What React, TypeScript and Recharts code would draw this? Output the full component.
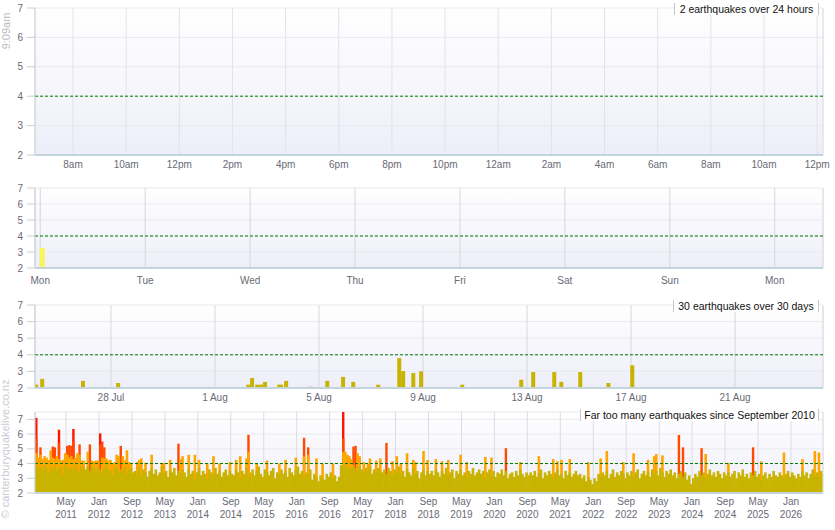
import { BarChart, Bar, XAxis, YAxis, CartesianGrid, ReferenceLine } from 'recharts'

// panel 1: last 24 hours, x = hours since midnight yesterday
const hourTicks = [8, 10, 12, 14, 16, 18, 20, 22, 24, 26, 28, 30, 32, 34, 36]
const hourLabels = ['8am', '10am', '12pm', '2pm', '4pm', '6pm', '8pm', '10pm', '12am', '2am', '4am', '6am', '8am', '10am', '12pm']
const hourDomain = [6.57, 36.22]
// both quakes of the last day were under M2, so nothing shows above the floor
const quakes24h: { h: number; mag: number }[] = []

// panel 2: last week, x = days since Monday
const dayTicks = [0, 1, 2, 3, 4, 5, 6, 7]
const dayLabels = ['Mon', 'Tue', 'Wed', 'Thu', 'Fri', 'Sat', 'Sun', 'Mon']
const dayDomain = [-0.05, 7.46]
const weekDays = [0.02]
const weekMags = [3.25]

// panel 3: last 30 days, x = days since 25 Jul
const dateTicks = [3, 7, 11, 15, 19, 23, 27]
const dateLabels = ['28 Jul', '1 Aug', '5 Aug', '9 Aug', '13 Aug', '17 Aug', '21 Aug']
const dateDomain = [0.08, 30.38]
const monthDays = [
  0.12, 0.35, 1.92, 3.27, 8.27, 8.42, 8.62, 8.77, 8.92, 9.46, 9.54, 9.73, 10.65, 11.31, 11.92,
  12.31, 13.27, 14.08, 14.23, 14.62, 14.92, 16.5, 18.77, 19.23, 20.04, 20.31, 21.04, 22.12, 23.04,
]
const monthMags = [
  2.2, 2.55, 2.43, 2.3, 2.2, 2.6, 2.2, 2.2, 2.37, 2.2, 2.2, 2.43, 2.08, 2.43, 2.67,
  2.37, 2.2, 3.8, 3.02, 2.9, 3.0, 2.2, 2.5, 2.96, 2.96, 2.37, 2.96, 2.3, 3.37,
]

// panel 4: since Sep 2010, x = months since 1 Sep 2010
const yearTicks = [8, 16, 24, 32, 40, 48, 56, 64, 72, 80, 88, 96, 104, 112, 120, 128, 136, 144, 152, 160, 168, 176, 184]
const yearLabels = [
  'May 2011', 'Jan 2012', 'Sep 2012', 'May 2013', 'Jan 2014', 'Sep 2014', 'May 2015', 'Jan 2016',
  'Sep 2016', 'May 2017', 'Jan 2018', 'Sep 2018', 'May 2019', 'Jan 2020', 'Sep 2020', 'May 2021',
  'Jan 2022', 'Sep 2022', 'May 2023', 'Jan 2024', 'Sep 2024', 'May 2025', 'Jan 2026',
]
const yearDomain = [0.47, 191.77]
const binStart = 0.75
const binStep = 0.5
// largest quake under M4 in each half-month, one row per year from September
const goldTops = [
  3.9, 3.6, 3.8, 3.5, 3.9, 3.7, 3.4, 3.8, 3.6, 3.9, 3.5, 3.7, 3.8, 3.3, 3.9, 3.6, 3.8, 3.7, 3.5, 3.9, 3.6, 3.4, 3.8, 3.7,
  3.6, 3.8, 3.5, 3.9, 3.7, 3.4, 3.8, 3.6, 3.3, 3.7, 3.9, 3.5, 3.6, 3.2, 3.7, 3.8, 3.4, 3.6, 3.5, 3.8, 3.3, 3.6, 3.7, 3.4,
  3.5, 3.3, 3.7, 3.2, 3.6, 3.4, 3.1, 3.5, 3.7, 3.3, 3.6, 3.2, 3.4, 3.8, 3.3, 3.5, 3.1, 3.6, 3.4, 3.7, 3.2, 3.5, 3.3, 3.6,
  3.4, 3.1, 3.6, 3.3, 3.5, 2.9, 3.4, 3.7, 3.2, 3.5, 3.3, 3.0, 3.6, 3.4, 3.2, 3.7, 3.3, 3.5, 3.1, 3.4, 3.6, 3.2, 3.5, 3.3,
  3.2, 3.6, 3.4, 3.0, 3.5, 3.3, 3.7, 3.1, 3.4, 3.6, 3.2, 3.5, 3.8, 3.3, 3.1, 3.6, 3.4, 3.2, 3.5, 3.7, 3.0, 3.4, 3.3, 3.6,
  3.3, 3.5, 3.1, 3.7, 3.4, 3.2, 3.6, 3.8, 3.3, 3.5, 3.0, 3.4, 3.2, 3.6, 2.9, 3.3, 3.1, 2.8, 3.2, 3.0, 2.9, 3.3, 3.1, 3.4,
  3.0, 3.2, 2.8, 3.1, 3.9, 3.8, 3.9, 3.7, 3.8, 3.6, 3.9, 3.7, 3.5, 3.8, 3.6, 3.4, 3.7, 3.5, 3.8, 3.3, 3.6, 3.4, 3.7, 3.5,
  3.4, 3.6, 3.3, 3.7, 3.5, 3.2, 3.6, 3.4, 3.8, 3.3, 3.5, 3.1, 3.6, 3.4, 3.2, 3.7, 3.3, 3.5, 3.0, 3.4, 3.6, 3.2, 3.5, 3.3,
  3.5, 3.2, 3.6, 3.4, 3.1, 3.5, 3.3, 3.7, 3.2, 3.4, 3.6, 3.0, 3.5, 3.3, 3.6, 3.2, 3.4, 3.1, 3.5, 3.3, 3.7, 3.2, 3.4, 3.6,
  3.3, 3.5, 3.0, 3.4, 3.6, 3.2, 3.5, 3.1, 3.4, 3.3, 3.6, 3.2, 3.5, 3.0, 3.3, 3.4, 3.1, 3.5, 3.2, 3.6, 3.3, 3.1, 3.4, 3.2,
  3.4, 3.2, 3.5, 3.1, 3.3, 3.6, 3.0, 3.4, 3.2, 3.5, 3.3, 3.1, 3.4, 3.6, 3.2, 3.3, 3.0, 3.5, 3.2, 3.4, 3.1, 3.3, 3.5, 3.2,
  3.3, 3.0, 3.2, 2.8, 3.1, 2.9, 2.6, 3.0, 2.8, 3.3, 3.1, 3.4, 3.2, 3.5, 3.0, 3.3, 3.6, 3.1, 3.4, 3.2, 3.5, 3.3, 3.0, 3.4,
  3.2, 3.5, 3.1, 3.4, 3.6, 3.0, 3.3, 3.5, 3.2, 3.4, 3.1, 3.6, 3.3, 3.5, 3.2, 3.7, 3.4, 3.1, 3.5, 3.3, 3.6, 3.2, 3.4, 3.0,
  3.3, 3.5, 3.1, 3.4, 2.9, 3.2, 2.6, 3.0, 3.3, 3.1, 3.5, 3.2, 3.4, 3.0, 3.3, 3.6, 3.2, 3.4, 3.1, 3.5, 3.3, 3.0, 3.4, 3.2,
  3.4, 3.1, 3.3, 3.5, 3.0, 3.4, 3.2, 3.6, 3.1, 3.3, 3.0, 3.4, 3.2, 3.5, 3.1, 3.3, 2.9, 3.2, 3.4, 3.0, 3.3, 3.1, 3.5, 3.2,
  3.1, 3.4, 3.2, 3.0, 3.3, 3.5, 3.1, 3.4, 3.2, 3.0, 3.3, 3.1, 3.5, 3.2, 3.4, 3.0, 3.3, 3.6, 3.2, 3.4, 3.1, 3.5, 3.3,
]
// quakes of M4 and over: [month, magnitude]
const bigQuakes: [number, number][] = [
  [0.7, 7.1], [0.7, 5.7], [0.7, 4.7], [1.25, 4.4], [1.9, 5.1], [1.9, 4.6], [2.4, 4.3], [2.9, 4.5], [3.3, 4.4],
  [3.6, 4.25], [4.1, 4.3], [4.35, 4.9], [4.8, 5.15], [4.8, 4.4], [5.1, 5.1], [5.3, 4.3], [5.7, 4.5], [6.05, 4.3],
  [6.3, 6.3], [6.3, 5.4], [6.7, 4.2], [7.0, 4.25], [7.5, 4.7], [7.75, 4.4], [8.0, 5.2], [8.25, 4.6], [8.5, 5.25],
  [8.7, 4.4], [9.0, 5.2], [9.2, 4.5], [9.6, 4.3], [9.9, 6.35], [9.9, 5.5], [10.3, 4.4], [10.7, 4.7], [11.15, 5.3],
  [11.15, 4.6], [11.6, 4.2], [12.1, 4.2], [12.4, 4.2], [13.0, 4.8], [13.35, 4.4], [13.7, 5.3], [14.05, 4.2],
  [14.55, 4.15], [15.05, 4.1], [15.3, 4.2], [15.75, 4.2], [16.25, 6.05], [16.25, 5.3], [16.5, 4.4], [16.75, 5.5],
  [17.1, 5.1], [17.2, 4.3], [17.45, 4.35], [17.95, 4.35], [18.2, 4.2], [18.7, 4.25], [18.9, 4.1], [19.4, 4.0],
  [19.9, 4.1], [20.25, 4.6], [20.85, 4.5], [21.35, 5.2], [21.6, 4.3], [21.95, 4.5], [22.3, 4.2], [22.7, 4.9],
  [23.2, 4.1], [23.8, 4.05], [25.0, 4.1], [25.6, 4.25], [26.2, 4.35], [27.4, 4.05], [28.9, 4.6], [31.05, 4.0],
  [31.9, 4.05], [33.0, 4.25], [35.2, 5.35], [35.7, 4.3], [36.4, 4.5], [37.6, 4.6], [39.05, 4.6], [40.3, 4.25],
  [42.45, 4.0], [43.9, 4.5], [45.4, 4.0], [47.8, 4.1], [49.0, 4.25], [50.25, 4.5], [51.95, 4.35],
  [52.45, 5.95], [52.45, 4.8], [54.35, 4.0], [56.55, 4.2], [59.95, 4.0], [61.15, 4.25], [63.85, 4.4],
  [65.8, 5.75], [65.8, 4.5], [66.75, 5.1], [66.75, 4.6], [68.7, 4.35], [70.15, 4.0], [72.8, 4.0],
  [75.0, 7.8], [75.0, 5.7], [75.0, 4.8], [75.5, 4.8], [76.2, 4.6], [76.95, 4.5], [77.4, 4.3], [77.9, 5.15],
  [78.4, 5.2], [78.9, 4.7], [79.35, 4.5], [80.3, 4.1], [81.05, 4.0], [81.8, 4.35], [83.0, 4.2], [84.25, 4.35],
  [85.95, 5.4], [87.15, 4.15], [88.1, 4.5], [89.1, 4.0], [90.55, 4.7], [92.25, 4.25], [92.95, 4.1], [94.65, 4.85],
  [95.65, 4.25], [97.8, 4.3], [99.3, 4.15], [100.5, 4.25], [103.9, 4.6], [105.1, 4.1], [109.95, 4.45], [111.4, 4.4],
  [114.8, 5.04], [118.2, 4.1], [122.6, 4.5], [126.0, 4.3], [127.2, 4.15], [128.4, 4.25], [130.35, 4.3], [134.5, 4.1],
  [137.9, 4.35], [139.35, 4.85], [143.25, 4.1], [145.65, 4.7], [149.3, 4.25], [150.5, 4.5], [151.0, 4.65],
  [152.7, 4.55], [156.8, 5.94], [157.8, 5.1], [162.15, 5.04], [163.35, 4.65], [168.7, 4.05], [174.55, 5.1],
  [176.5, 4.15], [182.05, 4.75], [186.7, 4.3], [189.6, 4.85], [190.55, 4.75],
]

const FONT = '"Liberation Sans", Arial, sans-serif'
const tickStyle = { fill: '#6a6a76', fontSize: 10, fontFamily: FONT }
const axisGrey = '#c6d2d4'

const weekData = weekDays.map((d, i) => ({ d, mag: weekMags[i] }))
const monthData = monthDays.map((d, i) => ({ d, mag: monthMags[i] }))

type Bin = { m: number; gold: number; orange: number | null; ored: number | null; red: number | null }
const allData: Bin[] = goldTops.map((g, i) => ({ m: binStart + i * binStep, gold: g, orange: null, ored: null, red: null }))
for (const [m, mag] of bigQuakes) {
  const i = Math.min(allData.length - 1, Math.max(0, Math.round((m - binStart) / binStep)))
  const key = mag >= 6 ? 'red' : mag >= 5 ? 'ored' : 'orange'
  allData[i][key] = Math.max(allData[i][key] ?? 0, mag)
}

// fixed-width bar drawn round the centre recharts computes
const slim = (w: number, fill: string) => (props: any) => {
  const { x, y, width, height } = props
  if (![x, y, width, height].every(Number.isFinite) || height <= 0) return <g />
  return <rect x={x + width / 2 - w / 2} y={y} width={w} height={height} fill={fill} />
}

function backdrop(id: string, yMax: number, xMax: number, gridColor: string) {
  return [
    <defs key="defs">
      <linearGradient id={id} x1="0" y1="0" x2="0" y2="1">
        <stop offset="0%" stopColor="#ffffff" />
        <stop offset="100%" stopColor="#eeeef9" />
      </linearGradient>
    </defs>,
    <CartesianGrid key="gh" vertical={false} stroke="#e9e9f1" fill={`url(#${id})`} />,
    <CartesianGrid key="gv" horizontal={false} stroke={gridColor} />,
    <YAxis
      key="y"
      type="number"
      domain={[2, yMax]}
      ticks={[2, 3, 4, 5, 6, 7]}
      allowDataOverflow
      interval={0}
      width={27}
      tickSize={8}
      tickMargin={4}
      tick={tickStyle}
      axisLine={{ stroke: axisGrey }}
      tickLine={{ stroke: axisGrey }}
    />,
    <ReferenceLine key="edge" x={xMax} stroke="#e0e4e8" />,
    <ReferenceLine key="m4" y={4} stroke="#007a00" strokeDasharray="3 2" />,
  ]
}

function YearTick(props: any) {
  const { x, y, payload } = props
  const label = yearLabels[yearTicks.indexOf(payload.value)] ?? ''
  const [mon, yr] = label.split(' ')
  return (
    <text x={x} y={y} textAnchor="middle" fill="#6a6a76" fontSize={10} fontFamily={FONT}>
      <tspan x={x} dy="0.71em">{mon}</tspan>
      <tspan x={x} dy="1.25em">{yr}</tspan>
    </text>
  )
}

const titleBox = (left: number, top: number, width: number, text: string) => (
  <div
    style={{
      position: 'absolute',
      left,
      top,
      width,
      height: 12,
      lineHeight: '12px',
      background: '#fff',
      borderLeft: '1px solid #c8c8c8',
      borderRight: '1px solid #c8c8c8',
      textAlign: 'center',
      fontFamily: FONT,
      fontSize: 10.5,
      color: '#111',
      whiteSpace: 'nowrap',
    }}
  >
    {text}
  </div>
)

const xAxisLine = { stroke: '#c4d4dc', strokeWidth: 2 }

export default function App() {
  return (
    <div style={{ position: 'absolute', left: 0, top: 0, width: 835, height: 530, background: '#fff' }}>
      <div style={{ position: 'absolute', left: 0, top: 0 }}>
        <BarChart width={835} height={180} data={quakes24h} margin={{ top: 8, right: 12, left: 8, bottom: 5 }}>
          {backdrop('bg1', 7, hourDomain[1], '#e2e2ea')}
          <XAxis
            dataKey="h"
            type="number"
            domain={hourDomain}
            ticks={hourTicks}
            interval={0}
            allowDataOverflow
            height={20}
            tickSize={0}
            tickMargin={6}
            tick={tickStyle}
            tickFormatter={(v: number) => hourLabels[hourTicks.indexOf(v)]}
            axisLine={xAxisLine}
          />
          <Bar dataKey="mag" fill="#f7f75c" isAnimationActive={false} shape={slim(5, '#f7f75c')} />
        </BarChart>
      </div>

      <div style={{ position: 'absolute', left: 0, top: 180 }}>
        <BarChart width={835} height={120} data={weekData} margin={{ top: 8, right: 12, left: 8, bottom: 12 }}>
          {backdrop('bg2', 7, dayDomain[1], '#d6d6de')}
          <XAxis
            dataKey="d"
            type="number"
            domain={dayDomain}
            ticks={dayTicks}
            interval={0}
            allowDataOverflow
            height={20}
            tickSize={0}
            tickMargin={9}
            tick={tickStyle}
            tickFormatter={(v: number) => dayLabels[dayTicks.indexOf(v)]}
            axisLine={xAxisLine}
          />
          <Bar dataKey="mag" fill="#f7f75c" isAnimationActive={false} shape={slim(5, '#f7f75c')} />
        </BarChart>
      </div>

      <div style={{ position: 'absolute', left: 0, top: 297 }}>
        <BarChart width={835} height={111} data={monthData} margin={{ top: 8, right: 12, left: 8, bottom: 0 }}>
          {backdrop('bg3', 7, dateDomain[1], '#d6d6de')}
          <XAxis
            dataKey="d"
            type="number"
            domain={dateDomain}
            ticks={dateTicks}
            interval={0}
            allowDataOverflow
            height={20}
            tickSize={0}
            tickMargin={6}
            tick={tickStyle}
            tickFormatter={(v: number) => dateLabels[dateTicks.indexOf(v)]}
            axisLine={xAxisLine}
          />
          <Bar dataKey="mag" fill="#c8b400" isAnimationActive={false} shape={slim(4, '#c8b400')} />
        </BarChart>
      </div>

      <div style={{ position: 'absolute', left: 0, top: 404 }}>
        <BarChart width={835} height={126} data={allData} margin={{ top: 8, right: 12, left: 8, bottom: 7 }}>
          {backdrop('bg4', 7.5, yearDomain[1], '#dcdce4')}
          <XAxis
            dataKey="m"
            type="number"
            domain={yearDomain}
            ticks={yearTicks}
            interval={0}
            allowDataOverflow
            height={30}
            tickSize={0}
            tickMargin={5}
            tick={<YearTick />}
            axisLine={xAxisLine}
          />
          <XAxis xAxisId="r" dataKey="m" type="number" domain={yearDomain} allowDataOverflow hide />
          <XAxis xAxisId="o5" dataKey="m" type="number" domain={yearDomain} allowDataOverflow hide />
          <XAxis xAxisId="o4" dataKey="m" type="number" domain={yearDomain} allowDataOverflow hide />
          <Bar xAxisId="r" dataKey="red" fill="#ff1400" isAnimationActive={false} shape={slim(2.4, '#ff1400')} />
          <Bar xAxisId="o5" dataKey="ored" fill="#ff4a00" isAnimationActive={false} shape={slim(2.4, '#ff4a00')} />
          <Bar xAxisId="o4" dataKey="orange" fill="#ffa500" isAnimationActive={false} shape={slim(2.6, '#ffa500')} />
          <Bar dataKey="gold" fill="#c8b400" isAnimationActive={false} shape={slim(2.6, '#c8b400')} />
        </BarChart>
      </div>

      {titleBox(674, 3, 143, '2 earthquakes over 24 hours')}
      {titleBox(673, 300, 144, '30 earthquakes over 30 days')}
      {titleBox(580, 409, 237, 'Far too many earthquakes since September 2010')}

      <svg width={835} height={530} style={{ position: 'absolute', left: 0, top: 0, pointerEvents: 'none' }}>
        <text transform="translate(7,31) rotate(-90)" textAnchor="middle" dominantBaseline="middle" fontSize={11} fontFamily={FONT} fill="#bcbcc4">
          9:09am
        </text>
        <text transform="translate(6,449) rotate(-90)" textAnchor="middle" dominantBaseline="middle" fontSize={11} fontFamily={FONT} fill="#c8ccd4">
          © canterburyquakelive.co.nz
        </text>
      </svg>
    </div>
  )
}
